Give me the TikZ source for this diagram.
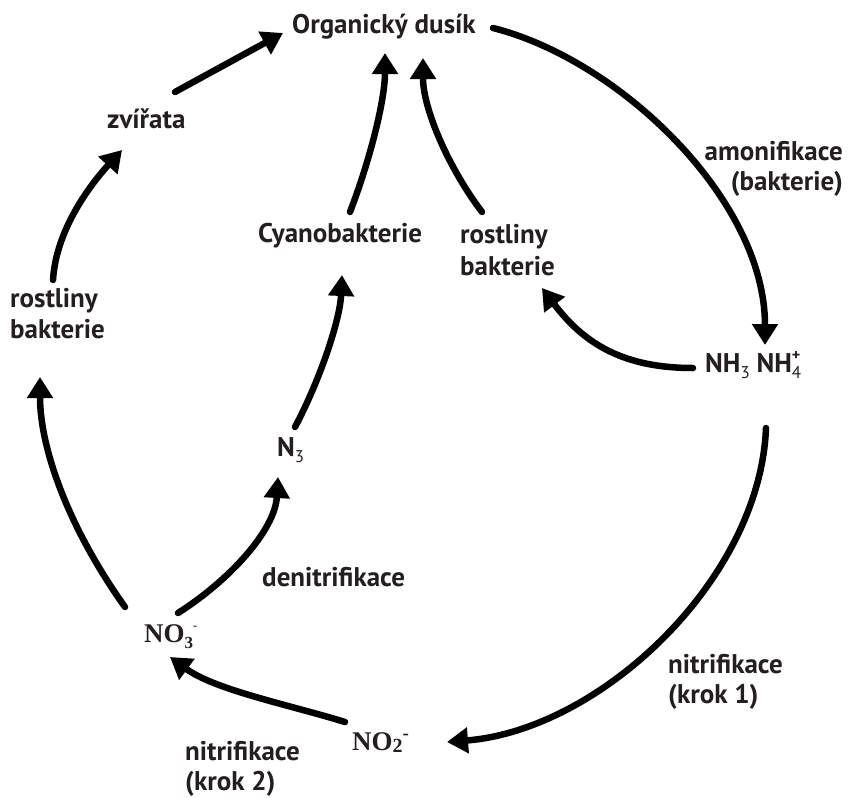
\documentclass[tikz,border=0pt]{standalone}
\usepackage{fontspec}
\setmainfont{PT Sans}
\newfontfamily\serifb{Liberation Serif}[UprightFont={Liberation Serif Bold},BoldFont={Liberation Serif Bold}]
\usetikzlibrary{arrows.meta}
\definecolor{txt}{HTML}{231F20}
\newcommand\sbx[1]{\raisebox{-6pt}{\fontsize{17}{17}\selectfont\mdseries #1}}
\newcommand\spx[1]{\raisebox{12pt}{\fontsize{16}{16}\selectfont #1}}
\begin{document}
\begin{tikzpicture}[x=1pt,y=-1pt,
  lbl/.style={anchor=base west, inner sep=0pt, text=txt, font=\fontsize{27}{32}\selectfont\bfseries},
  flow/.style={line width=6.5pt, line cap=round, -{Triangle[length=21pt,width=25pt]}}]
\useasboundingbox[fill=white] (0,0) rectangle (849,798);

% labels
\node[lbl] (org) at (292,33) {Organický dusík};
\node[lbl] (zvi) at (107,128) {zvířata};
\node[lbl] (rbLa) at (10,307) {rostliny};
\node[lbl] (rbLb) at (10,338) {bakterie};
\node[lbl] (cyan) at (258,242) {Cyanobakterie};
\node[lbl] (rbMa) at (460,243) {rostliny};
\node[lbl] (rbMb) at (460,275) {bakterie};
\node[lbl,anchor=base east] (amo) at (843,160) {amonifikace};
\node[lbl,anchor=base east] (amob) at (843,190) {(bakterie)};
\node[lbl] (nh) at (705,372) {NH\sbx{3} NH\rlap{\sbx{4}}\spx{+}};
\node[lbl] (n3) at (277,456) {N\sbx{3}};
\node[lbl] (deni) at (262,586) {denitrifikace};
\node[lbl] (no3) at (144,642) {\serifb NO\sbx{3}\raisebox{13pt}{\fontsize{12}{12}\selectfont -}};
\node[lbl] (no2) at (352,750) {\serifb NO\raisebox{-2pt}{\fontsize{20}{20}\selectfont 2}\raisebox{11pt}{\fontsize{19}{19}\selectfont -}};
\node[lbl] (nit1a) at (668,673) {nitrifikace};
\node[lbl] (nit1b) at (668,703) {(krok 1)};
\node[lbl] (nit2a) at (185,760) {nitrifikace};
\node[lbl] (nit2b) at (185,790) {(krok 2)};

% arrow end points
\coordinate (a1s) at (125,607); \coordinate (a1e) at (40,377);
\coordinate (a2s) at (53,280);  \coordinate (a2e) at (122,150);
\coordinate (a3s) at (175,92);  \coordinate (a3e) at (283,33);
\coordinate (a4s) at (493,28);  \coordinate (a4e) at (765,345);
\coordinate (a5s) at (693,368); \coordinate (a5e) at (542,288);
\coordinate (a6s) at (482,212); \coordinate (a6e) at (423,58);
\coordinate (a7s) at (350,212); \coordinate (a7e) at (385,53);
\coordinate (a8s) at (295,427); \coordinate (a8e) at (342,275);
\coordinate (a9s) at (178,613); \coordinate (a9e) at (278,477);
\coordinate (a10s) at (766,428); \coordinate (a10e) at (447,742);
\coordinate (a11s) at (345,722); \coordinate (a11e) at (170,657);

% arrows
\draw[flow] (a1s) .. controls (70,530) and (40,450) .. (a1e);
\draw[flow] (a2s) .. controls (56,230) and (90,185) .. (a2e);
\draw[flow] (a3s) -- (a3e);
\draw[flow] (a4s) .. controls (620,60) and (765,200) .. (a4e);
\draw[flow] (a5s) .. controls (625,368) and (585,345) .. (a5e);
\draw[flow] (a6s) .. controls (450,170) and (423,110) .. (a6e);
\draw[flow] (a7s) .. controls (370,160) and (385,100) .. (a7e);
\draw[flow] (a8s) .. controls (320,380) and (340,320) .. (a8e);
\draw[flow] (a9s) .. controls (230,580) and (275,530) .. (a9e);
\draw[flow] (a10s) .. controls (760,580) and (600,730) .. (a10e);
\draw[flow] (a11s) .. controls (290,705) and (215,690) .. (a11e);
\end{tikzpicture}
\end{document}
